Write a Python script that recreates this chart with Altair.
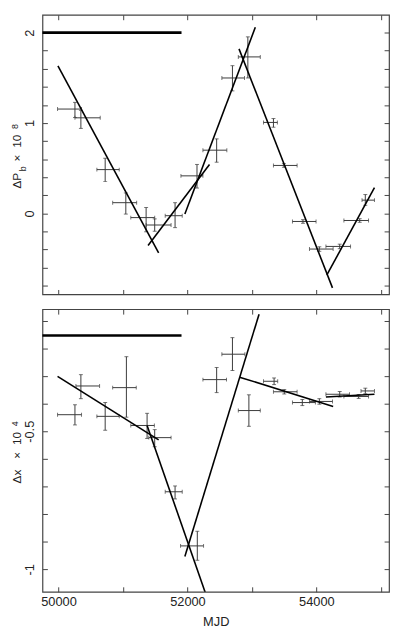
import altair as alt
import pandas as pd

# ---------------- data: top panel (Delta P_b x 1e8) ----------------
pb_mjd = [50255, 50347, 50724, 51044, 51359, 51492, 51808, 52148, 52453,
          52698, 52937, 53334, 53496, 53792, 54046, 54362, 54672, 54759]
pb_mjd_lo = [49985, 50255, 50595, 50840, 51121, 51359, 51655, 51899, 52240,
             52534, 52789, 53180, 53334, 53629, 53893, 54148, 54427, 54708]
pb_mjd_hi = [50357, 50647, 50942, 51212, 51492, 51746, 51919, 52240, 52611,
             52885, 53130, 53395, 53701, 53995, 54260, 54530, 54809, 54901]
pb_val = [1.154, 1.057, 0.484, 0.118, -0.047, -0.129, -0.026, 0.415, 0.699,
          1.498, 1.731, 1.006, 0.530, -0.090, -0.395, -0.366, -0.079, 0.146]
pb_lo = [1.060, 0.940, 0.351, -0.008, -0.204, -0.198, -0.158, 0.280, 0.566,
         1.355, 1.498, 0.953, 0.510, -0.110, -0.420, -0.391, -0.099, 0.089]
pb_hi = [1.228, 1.140, 0.609, 0.226, 0.065, -0.061, 0.118, 0.541, 0.824,
         1.634, 1.953, 1.049, 0.550, -0.070, -0.370, -0.341, -0.059, 0.208]

pb_fit_seg = [1, 1, 2, 2, 3, 3, 4, 4, 5, 5]
pb_fit_mjd = [49991, 51553, 51389, 52342, 51960, 53053, 52800, 54250, 54163, 54901]
pb_fit_val = [1.633, -0.437, -0.355, 0.541, -0.008, 2.06, 1.82, -0.825, -0.682, 0.286]

pb_bar_mjd = [49751, 51908]
pb_bar_val = 2.0

# ---------------- data: bottom panel (Delta x x 1e4) ----------------
dx_mjd = [50255, 50347, 50724, 51053, 51374, 51492, 51808, 52153, 52453,
          52698, 52953, 53344, 53502, 53782, 54046, 54362, 54656, 54759]
dx_mjd_lo = [49985, 50270, 50595, 50840, 51121, 51400, 51655, 51893, 52240,
             52534, 52789, 53180, 53334, 53629, 53893, 54148, 54427, 54692]
dx_mjd_hi = [50357, 50637, 50942, 51206, 51487, 51746, 51919, 52250, 52606,
             52891, 53130, 53400, 53701, 53985, 54250, 54514, 54809, 54901]
dx_val = [-0.440, -0.336, -0.446, -0.342, -0.479, -0.523, -0.719, -0.915, -0.313,
          -0.221, -0.425, -0.319, -0.357, -0.396, -0.392, -0.366, -0.374, -0.354]
dx_lo = [-0.477, -0.382, -0.496, -0.449, -0.526, -0.556, -0.745, -0.967, -0.360,
         -0.280, -0.482, -0.331, -0.365, -0.407, -0.402, -0.376, -0.381, -0.364]
dx_hi = [-0.404, -0.295, -0.396, -0.230, -0.435, -0.494, -0.698, -0.862, -0.269,
         -0.161, -0.368, -0.307, -0.349, -0.385, -0.382, -0.356, -0.367, -0.344]

dx_fit_seg = [1, 1, 2, 2, 3, 3, 4, 4, 5, 5]
dx_fit_mjd = [49985, 51553, 51374, 52275, 51960, 53111, 52809, 54260, 54148, 54901]
dx_fit_val = [-0.301, -0.531, -0.479, -1.083, -0.953, -0.076, -0.304, -0.410, -0.376, -0.366]

dx_bar_mjd = [49751, 51908]
dx_bar_val = -0.153

x_ticks = [50000, 51000, 52000, 53000, 54000, 55000]
pb_y_ticks = [round(-0.8 + 0.2 * i, 1) for i in range(15)]
dx_y_ticks = [round(-1.0 + 0.1 * i, 1) for i in range(10)]

X_DOMAIN = [49751, 55127]
W = 352
FONT = "Liberation Sans"
BAR_COL = "#3a3a3a"
FRAME_COL = "#444444"


def panel(mjd, mlo, mhi, val, vlo, vhi, fseg, fmjd, fval, bmjd, bval,
          ydomain, yticks, ylabexpr, height, show_x, title_pieces):
    xs = alt.Scale(domain=X_DOMAIN, nice=False, zero=False)
    ys = alt.Scale(domain=ydomain, nice=False, zero=False)

    pts = pd.DataFrame({"mjd": mjd, "mlo": mlo, "mhi": mhi,
                        "val": val, "vlo": vlo, "vhi": vhi})
    hcaps = pd.DataFrame({"x": list(mlo) + list(mhi), "y": list(val) * 2})
    vcaps = pd.DataFrame({"x": list(mjd) * 2, "y": list(vlo) + list(vhi)})
    fits = pd.DataFrame({"seg": fseg, "x": fmjd, "y": fval})
    bar = pd.DataFrame({"x1": [bmjd[0]], "x2": [bmjd[1]], "y": [bval]})

    xb_kwargs = dict(orient="bottom", values=x_ticks, offset=-5, tickSize=5,
                     domain=False, grid=False, tickColor=FRAME_COL)
    if show_x:
        xb_kwargs.update(labels=True, labelExpr="datum.value % 2000 == 0 ? '' + datum.value : ''",
                         labelPadding=4, labelFont=FONT, labelFontSize=13, labelColor="#222",
                         title="MJD", titleFont=FONT, titleFontSize=13, titleFontWeight="normal",
                         titleColor="#222", titlePadding=7)
    else:
        xb_kwargs.update(labels=False, title="")
    x_bottom = alt.Axis(**xb_kwargs)
    y_left = alt.Axis(orient="left", values=yticks, offset=-5, tickSize=5, domain=False,
                      grid=False, tickColor=FRAME_COL, labelExpr=ylabexpr, labelAngle=270,
                      labelAlign="center", labelBaseline="alphabetic", labelPadding=9,
                      labelFont=FONT, labelFontSize=13, labelColor="#222", title="")
    x_top = alt.Axis(orient="top", values=x_ticks, offset=-5, tickSize=5, domain=False,
                     grid=False, labels=False, tickColor=FRAME_COL, title="")
    y_right = alt.Axis(orient="right", values=yticks, offset=-5, tickSize=5, domain=False,
                       grid=False, labels=False, tickColor=FRAME_COL, title="")

    hbar = alt.Chart(pts).mark_rule(color=BAR_COL, strokeWidth=1).encode(
        x=alt.X("mlo:Q", scale=xs, axis=x_bottom), x2="mhi:Q",
        y=alt.Y("val:Q", scale=ys, axis=y_left))
    vbar = alt.Chart(pts).mark_rule(color=BAR_COL, strokeWidth=1).encode(
        x=alt.X("mjd:Q", scale=xs, axis=None),
        y=alt.Y("vlo:Q", scale=ys, axis=None), y2="vhi:Q")
    hc = alt.Chart(hcaps).mark_tick(orient="vertical", size=4, thickness=1, color=BAR_COL).encode(
        x=alt.X("x:Q", scale=xs, axis=None), y=alt.Y("y:Q", scale=ys, axis=None))
    vc = alt.Chart(vcaps).mark_tick(orient="horizontal", size=4, thickness=1, color=BAR_COL).encode(
        x=alt.X("x:Q", scale=xs, axis=None), y=alt.Y("y:Q", scale=ys, axis=None))
    lines = alt.Chart(fits).mark_line(color="black", strokeWidth=1.6, clip=True).encode(
        x=alt.X("x:Q", scale=xs, axis=x_top), y=alt.Y("y:Q", scale=ys, axis=y_right),
        detail="seg:N")
    thick = alt.Chart(bar).mark_rule(color="black", strokeWidth=2.6).encode(
        x=alt.X("x1:Q", scale=xs, axis=None), x2="x2:Q",
        y=alt.Y("y:Q", scale=ys, axis=None))

    layers = [hbar, vbar, hc, vc, lines, thick]
    for txt, size, bx, sy in title_pieces:
        layers.append(
            alt.Chart(pd.DataFrame({"t": [txt]})).mark_text(
                angle=270, align="left", baseline="alphabetic", font=FONT,
                fontSize=size, color="#222").encode(
                text="t:N", x=alt.value(bx), y=alt.value(sy)))

    return alt.layer(*layers).resolve_axis(x="independent", y="independent").properties(
        width=W, height=height)


top_title = [("ΔP", 12, -22, 176.5), ("b", 9, -17, 159), ("×", 12, -22, 149),
             ("10", 12, -22, 135), ("8", 9, -24.5, 116)]
bot_title = [("Δx", 12, -22, 177), ("×", 12, -22, 152),
             ("10", 12, -22, 138), ("4", 9, -24.5, 119)]

top = panel(pb_mjd, pb_mjd_lo, pb_mjd_hi, pb_val, pb_lo, pb_hi,
            pb_fit_seg, pb_fit_mjd, pb_fit_val, pb_bar_mjd, pb_bar_val,
            [-0.897, 2.197], pb_y_ticks,
            "abs(datum.value - round(datum.value)) < 0.001 ? format(datum.value, 'd') : ''",
            284, False, top_title)
bottom = panel(dx_mjd, dx_mjd_lo, dx_mjd_hi, dx_val, dx_lo, dx_hi,
               dx_fit_seg, dx_fit_mjd, dx_fit_val, dx_bar_mjd, dx_bar_val,
               [-1.081, -0.058], dx_y_ticks,
               "abs(datum.value + 0.5) < 0.001 ? '-0.5' : (abs(datum.value + 1) < 0.001 ? '-1' : '')",
               287, True, bot_title)

chart = alt.vconcat(top, bottom, spacing=11).properties(
    padding={"left": 2, "top": 0, "right": 0, "bottom": 0}
).configure_view(stroke=FRAME_COL, strokeWidth=1.2)

chart.save("out.html", embed_options={"renderer": "svg", "actions": False})
